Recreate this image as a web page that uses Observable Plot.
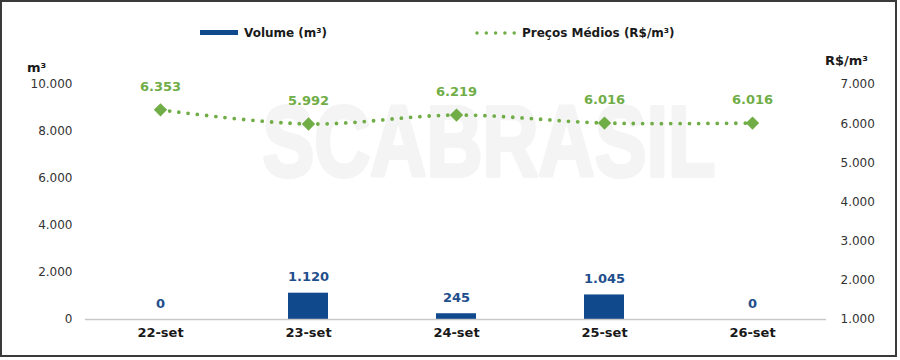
<!DOCTYPE html>
<html>
<head>
<meta charset="utf-8">
<script src="https://cdn.jsdelivr.net/npm/d3@7"></script>
<script src="https://cdn.jsdelivr.net/npm/@observablehq/plot@0.6"></script>
<style>
  html, body { margin: 0; padding: 0; background: #fff; }
  #wrap { position: relative; width: 900px; height: 360px; overflow: hidden; font-family: "DejaVu Sans", sans-serif; }
  #legend { position: relative; height: 44px; }
  .lg { position: absolute; font-size: 12px; font-weight: bold; color: #1a1a1a; line-height: 16px; white-space: nowrap; }
  #border { position: absolute; left: 0; top: 0; width: 897px; height: 357px; box-sizing: border-box; border: 2px solid #3a3a3a; pointer-events: none; }
</style>
</head>
<body>
<div id="wrap">
  <div id="legend">
    <div style="position:absolute;left:200px;top:30px;width:38px;height:5px;background:#10498c;"></div>
    <div class="lg" style="left:244px;top:25px;">Volume (m³)</div>
    <svg style="position:absolute;left:474px;top:26px;" width="48" height="14">
      <line x1="3" y1="7" x2="44" y2="7" stroke="#70ad47" stroke-width="3.5" stroke-linecap="round" stroke-dasharray="0 9.3"/>
    </svg>
    <div class="lg" style="left:522px;top:25px;">Preços Médios (R$/m³)</div>
  </div>
  <div id="chart"></div>
  <div id="border"></div>
</div>
<script>
const categories = ["22-set", "23-set", "24-set", "25-set", "26-set"];
const volume = [0, 1120, 245, 1045, 0];
const price = [6353, 5992, 6219, 6016, 6016];
const leftTicks = [0, 2000, 4000, 6000, 8000, 10000];
const rightTicks = [1000, 2000, 3000, 4000, 5000, 6000, 7000];
const watermark = ["SCABRASIL"];

const ptBR = d3.formatLocale({decimal: ",", thousands: ".", grouping: [3], currency: ["R$", ""]});
const fmt = ptBR.format(",d");

// map right axis (price) onto left scale domain
const pMin = 1000, pMax = 7000, vMax = 10000;
const toY = p => (p - pMin) * vMax / (pMax - pMin);
const fromY = v => v * (pMax - pMin) / vMax + pMin;

const data = categories.map((c, i) => ({cat: c, vol: volume[i], price: price[i], py: toY(price[i])}));

const green = "#70ad47";
const blue = "#10498c";

const chart = Plot.plot({
  width: 900,
  height: 316,
  marginLeft: 85,
  marginRight: 74,
  marginTop: 40,
  marginBottom: 41,
  style: {fontFamily: "DejaVu Sans, sans-serif", color: "#333", background: "transparent"},
  x: {type: "band", domain: categories, paddingInner: 0.73, paddingOuter: 0.365},
  y: {domain: [0, vMax]},
  marks: [
    Plot.text(watermark, {frameAnchor: "middle", dx: 33, dy: -58, text: d => d, fontSize: 100, fontWeight: "bold", fontFamily: "Liberation Sans, Arial, sans-serif", fill: "#f4f4f4", stroke: "#f4f4f4", strokeWidth: 4, lineAnchor: "middle", className: "wm"}),
    Plot.axisY({anchor: "left", ticks: leftTicks, tickSize: 0, tickPadding: 13, tickFormat: fmt, fontSize: 12, label: null, fill: "#333"}),
    Plot.axisY({anchor: "right", ticks: rightTicks.map(toY), tickSize: 0, tickPadding: 14, tickFormat: d => fmt(Math.round(fromY(d))), fontSize: 12, label: null, fill: "#333"}),
    Plot.axisX({tickSize: 0, tickPadding: 8, fontSize: 13, fontWeight: "bold", fill: "#1a1a1a", label: null}),
    Plot.text(["m³"], {frameAnchor: "top-left", dx: -49, dy: -22, text: d => d, fontSize: 13, fontWeight: "bold", fill: "#1a1a1a", textAnchor: "middle"}),
    Plot.text(["R$/m³"], {frameAnchor: "top-right", dx: 20, dy: -29, text: d => d, fontSize: 13, fontWeight: "bold", fill: "#1a1a1a", textAnchor: "middle"}),
    Plot.barY(data, {x: "cat", y: "vol", fill: blue}),
    Plot.ruleY([0], {stroke: "#c8c8c8", strokeWidth: 1.5}),
    Plot.text(data, {x: "cat", y: "vol", text: d => fmt(d.vol), dy: -16, fontSize: 13, fontWeight: "bold", fill: "#1f4e8c"}),
    Plot.line(data, {x: "cat", y: "py", stroke: green, strokeWidth: 3.8, strokeDasharray: "0 9.3", strokeLinecap: "round", curve: "catmull-rom"}),
    Plot.dot(data, {x: "cat", y: "py", symbol: "diamond2", r: 6, fill: green, stroke: "none"}),
    Plot.text(data, {x: "cat", y: "py", text: d => fmt(d.price), dy: -23, fontSize: 13, fontWeight: "bold", fill: green})
  ]
});
d3.select(chart).selectAll("g.wm text")
  .attr("textLength", 453)
  .attr("lengthAdjust", "spacingAndGlyphs");
document.getElementById("chart").appendChild(chart);
</script>
</body>
</html>
